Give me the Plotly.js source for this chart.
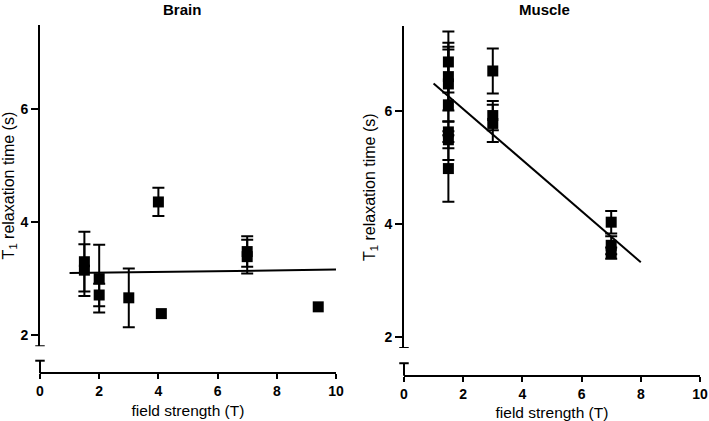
<!DOCTYPE html>
<html>
<head>
<meta charset="utf-8">
<script src="https://cdn.plot.ly/plotly-3.0.1.min.js"></script>
<style>html,body{margin:0;padding:0;background:#fff;}#chart{width:709px;height:421px;}</style>
</head>
<body>
<div id="chart"></div>
<script>
// Brain panel data
const brainX   = [1.5, 1.5, 2, 2, 3, 4, 4.1, 7, 7, 9.4];
const brainY   = [3.30, 3.15, 3.00, 2.71, 2.66, 4.36, 2.38, 3.48, 3.39, 2.50];
const brainErr = [0.53, 0.46, 0.60, 0.20, 0.52, 0.25, null, 0.27, 0.30, null];
const brainFitX = [1, 10];
const brainFitY = [3.10, 3.16];

// Muscle panel data
const muscleX   = [1.5, 1.5, 1.5, 1.5, 1.5, 1.5, 1.5, 3, 3, 3, 7, 7, 7];
const muscleY   = [6.87, 6.61, 6.48, 6.11, 5.63, 5.49, 4.98, 6.71, 5.92, 5.78, 4.03, 3.62, 3.48];
const muscleErr = [0.54, 0.60, 0.66, 0.98, 0.18, 0.15, 0.59, 0.40, 0.26, 0.33, 0.20, 0.16, 0.10];
const muscleFitX = [1, 8];
const muscleFitY = [6.49, 3.32];

const xTicks = [0, 2, 4, 6, 8, 10];
const xTickText = ['0', '2', '4', '6', '8', '10'];
const yTicks = [2, 4, 6];
const yTickText = ['2', '4', '6'];
const panelTitles = ['Brain', 'Muscle'];
const xTitle = 'field strength (T)';
const yTitle = 'T<sub>1</sub> relaxation time (s)';

const black = '#000000';
const fam = 'Arial, Liberation Sans, sans-serif';

function bold(arr) { return arr.map(function (t) { return '<b>' + t + '</b>'; }); }

function pts(x, y, err, xa, ya) {
  const ex = [], ey = [], ee = [], nx = [], ny = [];
  for (let i = 0; i < x.length; i++) {
    if (err[i] === null) { nx.push(x[i]); ny.push(y[i]); }
    else { ex.push(x[i]); ey.push(y[i]); ee.push(err[i]); }
  }
  const m = {symbol: 'square', size: 11, color: black};
  return [
    {type: 'scatter', mode: 'markers', x: ex, y: ey, xaxis: xa, yaxis: ya, marker: m,
     error_y: {type: 'data', array: ee, visible: true, color: black, thickness: 2, width: 6},
     showlegend: false, cliponaxis: false},
    {type: 'scatter', mode: 'markers', x: nx, y: ny, xaxis: xa, yaxis: ya, marker: m,
     showlegend: false, cliponaxis: false}
  ];
}
function fit(x, y, xa, ya) {
  return {type: 'scatter', mode: 'lines', x: x, y: y, xaxis: xa, yaxis: ya,
    line: {color: black, width: 2}, showlegend: false};
}

const traces = [].concat(
  pts(brainX, brainY, brainErr, 'x', 'y'),
  [fit(brainFitX, brainFitY, 'x', 'y')],
  pts(muscleX, muscleY, muscleErr, 'x2', 'y2'),
  [fit(muscleFitX, muscleFitY, 'x2', 'y2')]
);

function xax(domain, pos) {
  return {domain: domain, anchor: 'free', position: pos, range: [0, 10], showline: true, linewidth: 2, linecolor: black,
    ticks: 'outside', ticklen: 5, tickwidth: 2, tickcolor: black,
    tickmode: 'array', tickvals: xTicks, ticktext: bold(xTickText),
    tickfont: {family: fam, size: 14, color: black},
    showgrid: false, zeroline: false, automargin: false,
    title: {text: xTitle, font: {family: fam, size: 15.5, color: black}, standoff: 6}};
}
function yax(domain, anchor) {
  return {domain: domain, anchor: anchor, range: [1.8, 7.5], showline: true, linewidth: 2, linecolor: black,
    ticks: 'outside', ticklen: 7, tickwidth: 2, tickcolor: black,
    tickmode: 'array', tickvals: yTicks, ticktext: bold(yTickText),
    tickfont: {family: fam, size: 14, color: black},
    showgrid: false, zeroline: false, automargin: false,
    title: {text: yTitle, font: {family: fam, size: 16, color: black}, standoff: 5}};
}
function seg(xref, y0, y1) {
  return {type: 'line', xref: xref, yref: 'paper', x0: 0, x1: 0, y0: y0, y1: y1,
    line: {color: black, width: 2}};
}
function cap(xref, yref, y) {
  return {type: 'line', xref: xref, yref: yref, x0: -0.016, x1: 0.016, y0: y, y1: y,
    line: {color: black, width: 2}};
}

const leftBreak = [0.1133, 0.1432];
const rightBreak = [0.1076, 0.1372];

const layout = {
  width: 709, height: 421,
  margin: {l: 0, r: 0, t: 0, b: 0},
  paper_bgcolor: '#ffffff', plot_bgcolor: '#ffffff',
  showlegend: false,
  xaxis: xax([0.0564, 0.4739], leftBreak[0]),
  yaxis: yax([0.1774, 0.9409], 'x'),
  xaxis2: xax([0.5698, 0.9873], rightBreak[0]),
  yaxis2: yax([0.1734, 0.9373], 'x2'),
  shapes: [
    cap('x domain', 'y', 1.8),
    seg('x domain', leftBreak[0], leftBreak[1]),
    cap('x domain', 'paper', leftBreak[1]),
    cap('x2 domain', 'y2', 1.8),
    seg('x2 domain', rightBreak[0], rightBreak[1]),
    cap('x2 domain', 'paper', rightBreak[1])
  ],
  annotations: [
    {text: '<b>' + panelTitles[0] + '</b>', xref: 'paper', yref: 'paper', x: 0.2567, y: 0.9786, xanchor: 'center', yanchor: 'middle',
     showarrow: false, font: {family: fam, size: 15, color: black}},
    {text: '<b>' + panelTitles[1] + '</b>', xref: 'paper', yref: 'paper', x: 0.7673, y: 0.9786, xanchor: 'center', yanchor: 'middle',
     showarrow: false, font: {family: fam, size: 15, color: black}}
  ]
};

Plotly.newPlot('chart', traces, layout, {displayModeBar: false, staticPlot: true});
</script>
</body>
</html>
